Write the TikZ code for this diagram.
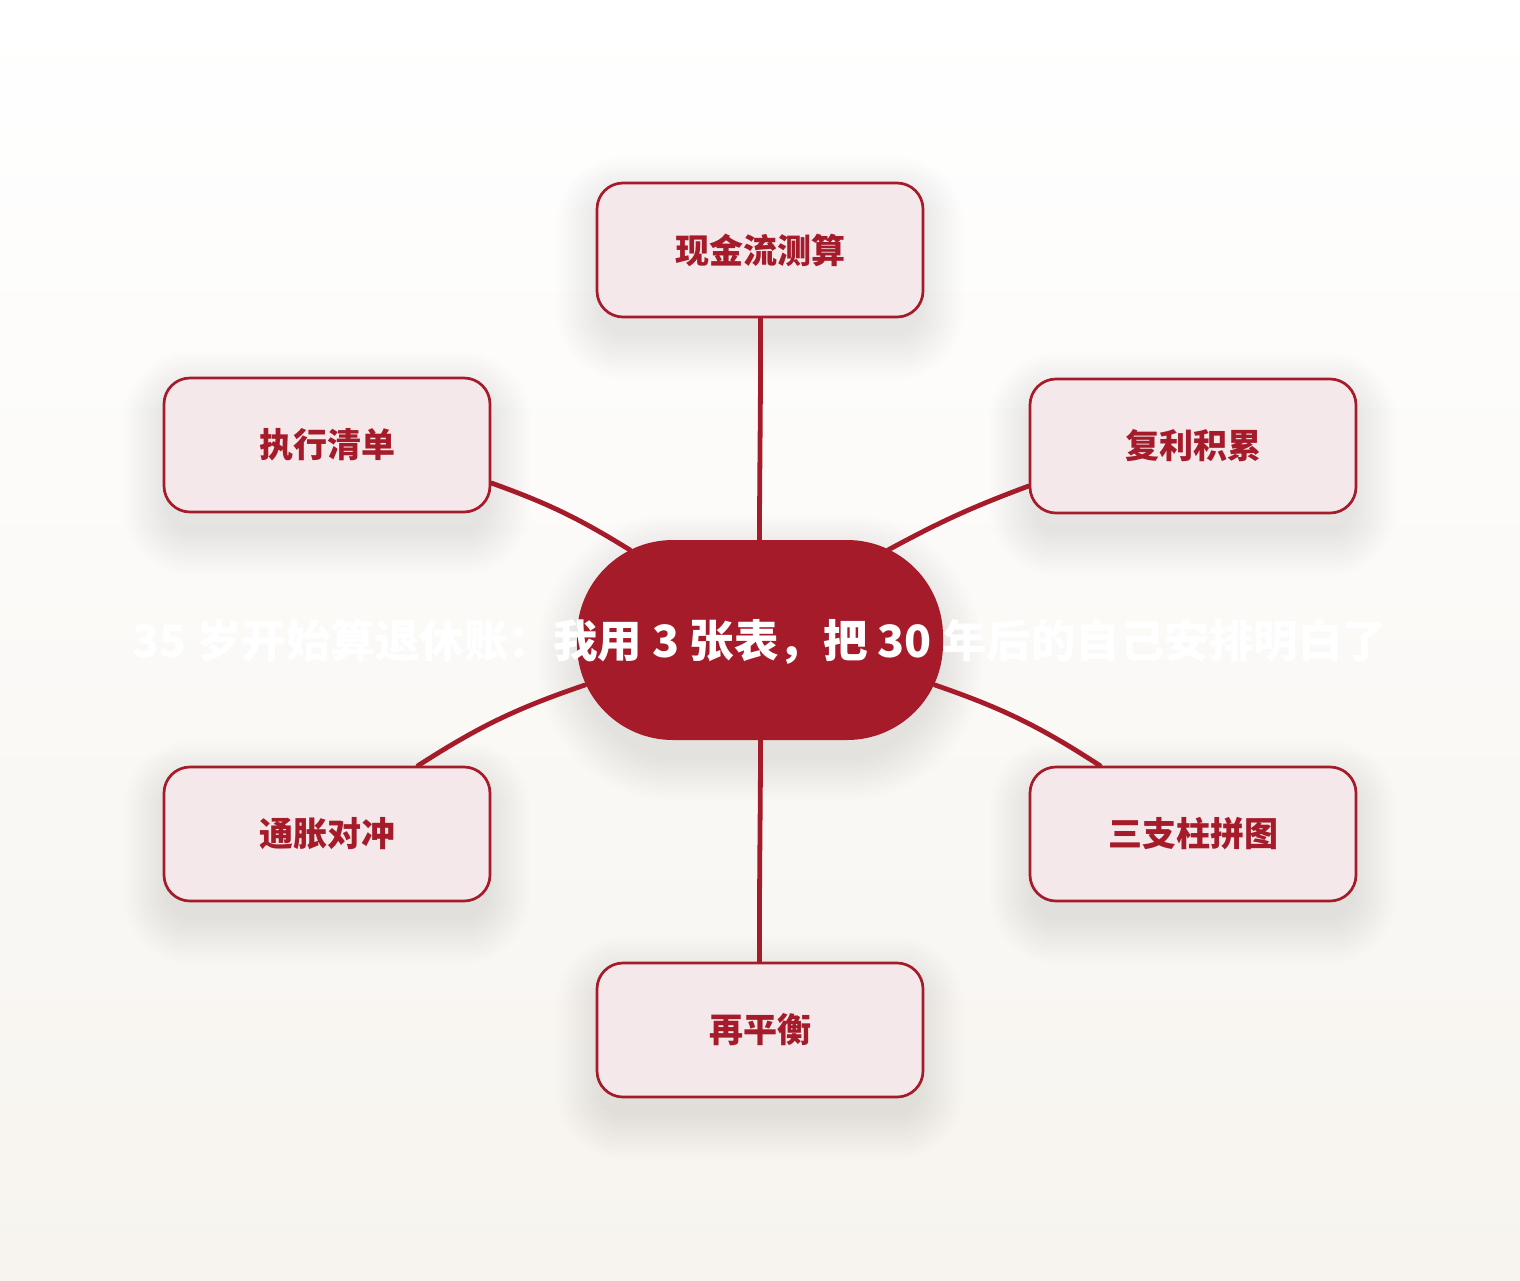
\documentclass[tikz,border=0pt]{standalone}
\usepackage{fontspec}
\setmainfont{Noto Sans CJK SC}
\usetikzlibrary{calc}
\definecolor{deepred}{HTML}{A51B2A}
\definecolor{blush}{HTML}{F4E8EA}
\definecolor{paper}{HTML}{F7F4EF}
\pgfdeclarelayer{bg}
\pgfdeclarelayer{shade}
\pgfdeclarelayer{links}
\pgfsetlayers{bg,shade,links,main}

\begin{document}
\begin{tikzpicture}[x=1pt,y=-1pt,
    topic/.style={draw=deepred,line width=2.7pt,fill=blush,rounded corners=26pt,
      minimum width=326pt,minimum height=134pt,text=deepred,
      font=\fontsize{34}{40}\selectfont\bfseries},
    hubshape/.style={fill=deepred,rounded corners=96pt,minimum width=366pt,minimum height=200pt},
    haze/.style={fill=black,opacity=0.0055},
    link/.style={draw=deepred,line width=4.8pt,line cap=round}]
  \begin{pgfonlayer}{bg}
    \shade[top color=white,bottom color=paper] (0,0) rectangle (1520,1280);
  \end{pgfonlayer}
  \useasboundingbox (0,0) rectangle (1520,1280);

  \node[hubshape] (hub) at (760,640) {};
  \node[text=white,font=\fontsize{44.5}{50}\selectfont\bfseries] (title) at (760,642)
    {35 岁开始算退休账：我用 3 张表，把 30 年后的自己安排明白了};

  \node[topic] (cash) at (760,250) {现金流测算};
  \node[topic] (compound) at (1193,446) {复利积累};
  \node[topic] (pillars) at (1193,834) {三支柱拼图};
  \node[topic] (rebal) at (760,1030) {再平衡};
  \node[topic] (hedge) at (327,834) {通胀对冲};
  \node[topic] (todo) at (327,445) {执行清单};

  \begin{pgfonlayer}{shade}
    \foreach \n in {cash,compound,pillars,rebal,hedge,todo}
      \foreach \k in {0,...,22}
        \fill[haze,rounded corners=26pt+2*\k pt]
          ($(\n.north west)+(-2*\k+4,18-2*\k)$) rectangle ($(\n.south east)+(2*\k-4,18+2*\k)$);
    \foreach \k in {0,...,22}
      \fill[haze,rounded corners=96pt+2*\k pt]
        ($(hub.north west)+(-2*\k+4,18-2*\k)$) rectangle ($(hub.south east)+(2*\k-4,18+2*\k)$);
  \end{pgfonlayer}

  \begin{pgfonlayer}{links}
    \draw[link] (hub.center) .. controls (758,500) and (762,400) .. (cash.center);
    \draw[link] ($(hub.center)+(128,-90)$) to[bend left=4] ($(compound.west)+(0,40)$);
    \draw[link] ($(hub.center)+(175,45)$) to[bend left=7] ($(pillars.north)+(-93,0)$);
    \draw[link] (hub.center) .. controls (762,780) and (758,880) .. (rebal.center);
    \draw[link] ($(hub.center)+(-175,45)$) to[bend right=7] ($(hedge.north)+(91,0)$);
    \draw[link] ($(todo.east)+(0,38)$) to[bend left=6] ($(hub.center)+(-130,-90)$);
  \end{pgfonlayer}
\end{tikzpicture}
\end{document}
